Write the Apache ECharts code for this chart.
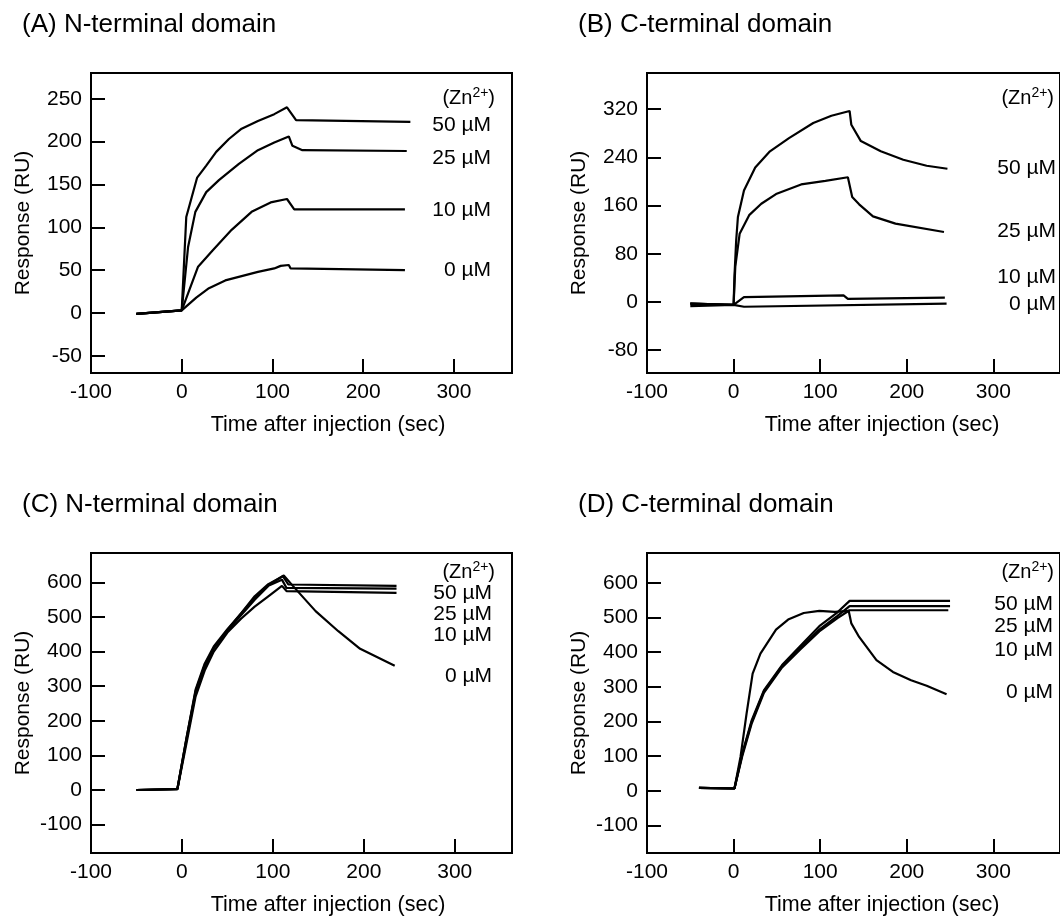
<!DOCTYPE html>
<html>
<head>
<meta charset="utf-8">
<script src="https://cdn.jsdelivr.net/npm/echarts@6/dist/echarts.min.js"></script>
<style>
html, body { margin: 0; padding: 0; background: #fff; }
#main { width: 1060px; height: 919px; }
</style>
</head>
<body>
<div id="main"></div>
<script>
//横轴刻度 (sec)
var xTicks = [-100, 0, 100, 200, 300];
//各面板纵轴刻度 (RU)
var yTicksA = [-50, 0, 50, 100, 150, 200, 250];
var yTicksB = [-80, 0, 80, 160, 240, 320];
var yTicksC = [-100, 0, 100, 200, 300, 400, 500, 600];
var yTicksD = [-100, 0, 100, 200, 300, 400, 500, 600];

//浓度标签
var concLabels = ['50 µM', '25 µM', '10 µM', '0 µM'];

//(A) N-terminal domain  [时间, 响应]
var a50 = [[-50, -1], [0, 3], [5, 112], [11, 135], [17, 158], [27, 172], [38, 188], [52, 203], [66, 215], [84, 224], [102, 232], [116, 240], [126, 225], [252, 223]];
var a25 = [[-50, -1], [0, 3], [7, 77], [15, 118], [27, 141], [41, 155], [63, 174], [84, 190], [102, 199], [118, 206], [122, 195], [133, 190], [248, 189]];
var a10 = [[-50, -1], [0, 3], [18, 54], [34, 73], [55, 97], [77, 118], [98, 129], [116, 133], [124, 121], [246, 121]];
var a0 = [[-50, -1], [0, 3], [16, 18], [30, 29], [48, 38], [84, 48], [102, 52], [109, 55], [118, 56], [120, 52], [246, 50]];

//(B) C-terminal domain
var b50 = [[-50, -3], [0, -5], [1, 42], [3, 102], [5, 141], [12, 185], [25, 223], [42, 250], [64, 272], [92, 297], [113, 309], [134, 317], [136, 294], [147, 267], [170, 250], [196, 236], [223, 226], [247, 221]];
var b25 = [[-50, -3], [0, -5], [2, 59], [7, 113], [18, 144], [32, 163], [49, 179], [78, 195], [106, 201], [132, 207], [137, 174], [145, 162], [161, 142], [187, 130], [243, 116]];
var b10 = [[-50, -3], [0, -5], [12, 8], [127, 11], [132, 5], [244, 7]];
var b0 = [[-50, -7], [0, -5], [12, -8], [246, -3]];

//(C) N-terminal domain
var c50 = [[-50, 0], [-5, 3], [5, 150], [15, 290], [25, 365], [35, 415], [50, 465], [65, 510], [80, 560], [95, 595], [111, 618], [117, 594], [236, 590]];
var c25 = [[-50, 0], [-5, 3], [5, 145], [15, 280], [25, 355], [35, 410], [50, 460], [65, 505], [80, 550], [95, 590], [110, 608], [115, 584], [236, 582]];
var c10 = [[-50, 0], [-5, 2], [5, 135], [15, 270], [25, 345], [35, 400], [50, 455], [65, 495], [80, 530], [95, 560], [110, 590], [115, 575], [236, 570]];
var c0 = [[-50, 0], [-5, 3], [5, 150], [15, 285], [25, 360], [35, 410], [50, 462], [65, 510], [80, 555], [95, 592], [112, 620], [122, 590], [147, 517], [172, 459], [196, 408], [234, 359]];

//(D) C-terminal domain
var d50 = [[-40, 9], [1, 7], [10, 108], [21, 204], [35, 290], [56, 363], [77, 418], [99, 475], [120, 515], [134, 548], [250, 548]];
var d25 = [[-40, 9], [1, 7], [10, 105], [21, 200], [35, 287], [56, 360], [77, 412], [99, 465], [120, 505], [134, 533], [250, 533]];
var d10 = [[-40, 9], [1, 7], [10, 100], [21, 195], [35, 283], [56, 356], [77, 408], [99, 460], [120, 498], [134, 521], [248, 521]];
var d0 = [[-40, 9], [1, 7], [8, 98], [15, 223], [22, 338], [31, 396], [49, 465], [63, 494], [81, 513], [99, 519], [117, 516], [133, 519], [136, 483], [145, 444], [165, 377], [184, 343], [205, 319], [223, 303], [246, 279]];

var FONT = 'Liberation Sans, Arial, Helvetica, sans-serif';

var makeX = function(idx, max) {
	return {
		type: 'value',
		gridIndex: idx,
		min: -100,
		max: max,
		axisLine: { show: false, onZero: false },
		splitLine: { show: false },
		axisTick: { inside: true, length: 14, lineStyle: { color: '#000', width: 2 }, customValues: xTicks.slice(1) },
		axisLabel: { color: '#000', fontSize: 21, fontFamily: FONT, margin: 9, customValues: xTicks }
	};
};

var makeY = function(idx, min, max, ticks) {
	return {
		type: 'value',
		gridIndex: idx,
		min: min,
		max: max,
		name: 'Response (RU)',
		nameLocation: 'middle',
		nameGap: 57,
		nameTextStyle: { color: '#000', fontSize: 21, fontFamily: FONT },
		axisLine: { show: false, onZero: false },
		splitLine: { show: false },
		axisTick: { inside: true, length: 14, lineStyle: { color: '#000', width: 2 }, customValues: ticks },
		axisLabel: { color: '#000', fontSize: 21, fontFamily: FONT, margin: 9, customValues: ticks }
	};
};

var makeLine = function(idx, data) {
	return {
		type: 'line',
		xAxisIndex: idx,
		yAxisIndex: idx,
		data: data,
		showSymbol: false,
		silent: true,
		lineStyle: { color: '#000', width: 2.2 }
	};
};

var txt = function(x, y, s, align, size) {
	return {
		type: 'text',
		x: x,
		y: y,
		style: { text: s, fill: '#000', font: (size || 21) + 'px ' + FONT, align: align || 'right', verticalAlign: 'middle' }
	};
};

var znLabel = function(x, y) {
	return {
		type: 'text',
		x: x,
		y: y,
		style: {
			text: '{n|(Zn}{s|2+}{n|)}',
			align: 'right',
			verticalAlign: 'middle',
			rich: {
				n: { fill: '#000', fontSize: 20, fontFamily: FONT, lineHeight: 23 },
				s: { fill: '#000', fontSize: 14, fontFamily: FONT, lineHeight: 23, verticalAlign: 'top' }
			}
		}
	};
};

//各面板标签位置
var labelYs = {
	A: [125, 158, 210, 270],
	B: [168, 231, 277, 304],
	C: [593, 614, 635, 676],
	D: [604, 626, 650, 692]
};

var graphics = [
	txt(22, 25, '(A) N-terminal domain', 'left', 26),
	txt(578, 25, '(B) C-terminal domain', 'left', 26),
	txt(22, 505, '(C) N-terminal domain', 'left', 26),
	txt(578, 505, '(D) C-terminal domain', 'left', 26),
	txt(328, 425, 'Time after injection (sec)', 'center', 21.5),
	txt(882, 425, 'Time after injection (sec)', 'center', 21.5),
	txt(328, 905, 'Time after injection (sec)', 'center', 21.5),
	txt(882, 905, 'Time after injection (sec)', 'center', 21.5),
	znLabel(495, 98),
	znLabel(1054, 98),
	znLabel(495, 572),
	znLabel(1054, 572)
];
var rights = { A: 491, B: 1056, C: 492, D: 1053 };
['A', 'B', 'C', 'D'].forEach(function(k) {
	for(var i = 0; i < concLabels.length; i++) {
		graphics.push(txt(rights[k], labelYs[k][i], concLabels[i]));
	}
});

var gridStyle = { show: true, borderColor: '#000', borderWidth: 2, backgroundColor: 'transparent' };

var option = {
	animation: false,
	backgroundColor: '#fff',
	textStyle: { fontFamily: FONT },
	grid: [
		Object.assign({ left: 91, top: 73, width: 421, height: 300 }, gridStyle),
		Object.assign({ left: 647, top: 73, width: 440, height: 300 }, gridStyle),
		Object.assign({ left: 91, top: 553, width: 421, height: 300 }, gridStyle),
		Object.assign({ left: 647, top: 553, width: 440, height: 300 }, gridStyle)
	],
	xAxis: [makeX(0, 364), makeX(1, 377), makeX(2, 363), makeX(3, 377)],
	yAxis: [
		makeY(0, -70, 280, yTicksA),
		makeY(1, -118, 380, yTicksB),
		makeY(2, -182, 685, yTicksC),
		makeY(3, -179, 686, yTicksD)
	],
	series: [
		makeLine(0, a50), makeLine(0, a25), makeLine(0, a10), makeLine(0, a0),
		makeLine(1, b50), makeLine(1, b25), makeLine(1, b10), makeLine(1, b0),
		makeLine(2, c50), makeLine(2, c25), makeLine(2, c10), makeLine(2, c0),
		makeLine(3, d50), makeLine(3, d25), makeLine(3, d10), makeLine(3, d0)
	],
	graphic: graphics
};

var chart = echarts.init(document.getElementById('main'));
chart.setOption(option);
</script>
</body>
</html>
